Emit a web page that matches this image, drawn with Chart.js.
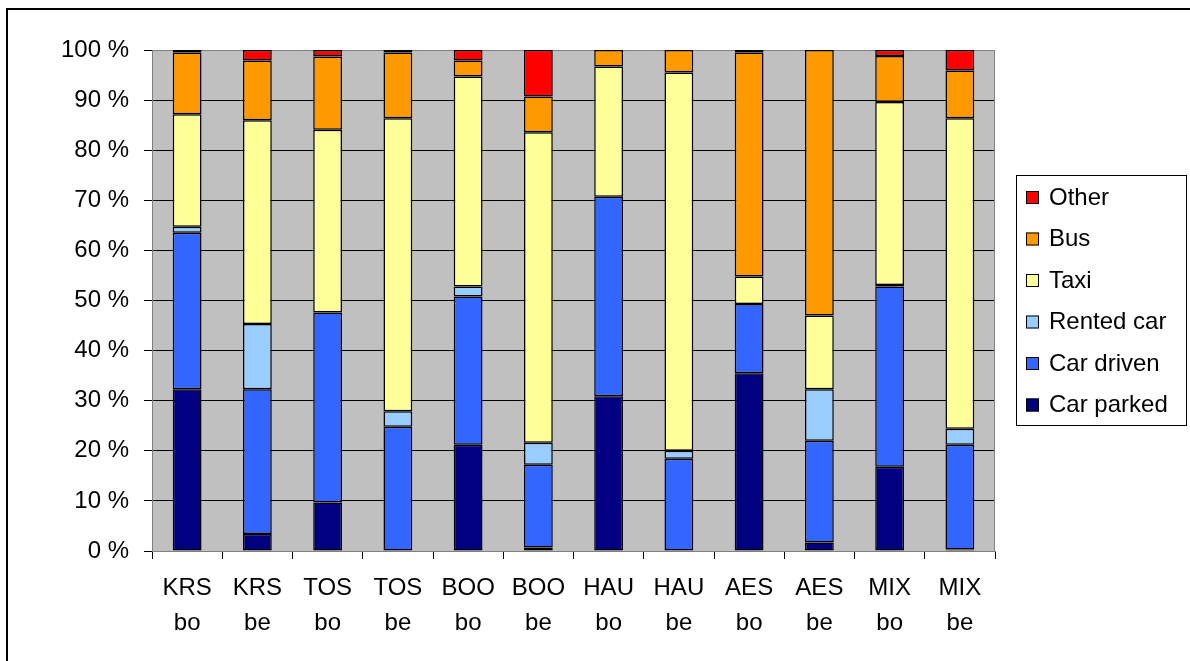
<!DOCTYPE html>
<html>
<head>
<meta charset="utf-8">
<script src="https://cdn.jsdelivr.net/npm/chart.js@4"></script>
<style>
  body { margin: 0; background: #fff; overflow: hidden; }
  canvas { display: block; }
</style>
</head>
<body>
<canvas id="modeChart" width="1190" height="661"></canvas>
<script>
// categories (two-line tick labels)
const categories = [
  ["KRS", "bo"], ["KRS", "be"], ["TOS", "bo"], ["TOS", "be"],
  ["BOO", "bo"], ["BOO", "be"], ["HAU", "bo"], ["HAU", "be"],
  ["AES", "bo"], ["AES", "be"], ["MIX", "bo"], ["MIX", "be"]
];

// shares in %
const carParked = [32.3, 3.4, 9.7, 0, 21.2, 0.7, 30.9, 0, 35.5, 1.7, 16.8, 0.3];
const carDriven = [31.2, 28.9, 37.9, 24.8, 29.6, 16.5, 39.8, 18.4, 13.8, 20.3, 36.0, 20.9];
const rentedCar = [1.2, 13.0, 0, 3.1, 2.0, 4.4, 0, 1.6, 0, 10.3, 0.3, 3.2];
const taxi      = [22.5, 40.7, 36.5, 58.5, 41.9, 62.0, 26.0, 75.5, 5.5, 14.7, 36.5, 62.0];
const bus       = [12.3, 11.9, 14.6, 13.1, 3.2, 7.1, 3.3, 4.5, 44.7, 53.0, 9.2, 9.5];
const other     = [0.5, 2.1, 1.3, 0.5, 2.1, 9.3, 0, 0, 0.5, 0, 1.2, 4.1];

const FONT = "'Liberation Sans', Arial, sans-serif";

function makeSet(label, data, color) {
  return {
    label: label,
    data: data,
    backgroundColor: color,
    borderColor: "#000",
    borderWidth: 1.5,
    borderSkipped: false,
    categoryPercentage: 1,
    barPercentage: 0.41
  };
}

// grey plot area + outer frame
const plotBackground = {
  id: "plotBackground",
  beforeDraw(chart) {
    const { ctx, chartArea: a } = chart;
    ctx.save();
    ctx.fillStyle = "#fff";
    ctx.fillRect(0, 0, chart.width, chart.height);
    ctx.fillStyle = "#C0C0C0";
    ctx.fillRect(a.left, a.top, a.right - a.left, a.bottom - a.top);
    ctx.strokeStyle = "#000";
    ctx.lineWidth = 2;
    ctx.strokeRect(7, 9, 1400, 1000);
    ctx.restore();
  },
  beforeDatasetsDraw(chart) {
    const { ctx, chartArea: a } = chart;
    ctx.save();
    ctx.strokeStyle = "#808080";
    ctx.lineWidth = 1;
    ctx.strokeRect(a.left + 0.5, a.top + 0.5, a.right - a.left - 1, a.bottom - a.top);
    ctx.restore();
  }
};

// boxed legend on the right, top entry = last dataset
const boxLegend = {
  id: "boxLegend",
  afterDraw(chart) {
    const ctx = chart.ctx;
    const sets = chart.data.datasets.slice().reverse();
    ctx.save();
    ctx.strokeStyle = "#000";
    ctx.lineWidth = 1;
    ctx.strokeRect(1016.5, 175.5, 170, 250);
    ctx.font = "24px " + FONT;
    ctx.textBaseline = "middle";
    sets.forEach((ds, i) => {
      const y = 197 + i * 41.5;
      ctx.fillStyle = ds.backgroundColor;
      ctx.fillRect(1026, y - 6, 13, 13);
      ctx.strokeRect(1026.5, y - 5.5, 12, 12);
      ctx.fillStyle = "#000";
      ctx.fillText(ds.label, 1049, y + 1);
    });
    ctx.restore();
  }
};

Chart.defaults.color = "#000";
Chart.defaults.font.family = FONT;
Chart.defaults.font.size = 24;

const chart = new Chart(document.getElementById("modeChart").getContext("2d"), {
  type: "bar",
  data: {
    labels: categories,
    datasets: [
      makeSet("Car parked", carParked, "#000080"),
      makeSet("Car driven", carDriven, "#3366FF"),
      makeSet("Rented car", rentedCar, "#99CCFF"),
      makeSet("Taxi", taxi, "#FFFF99"),
      makeSet("Bus", bus, "#FF9900"),
      makeSet("Other", other, "#FF0000")
    ]
  },
  options: {
    responsive: false,
    animation: false,
    layout: { padding: { top: 50, right: 195, left: 0, bottom: 0 } },
    plugins: {
      legend: { display: false },
      tooltip: { enabled: false }
    },
    scales: {
      x: {
        stacked: true,
        grid: { offset: true, drawOnChartArea: false, tickLength: 8, color: "#000" },
        border: { color: "#808080" },
        ticks: { padding: 12, maxRotation: 0, font: { size: 24, lineHeight: 1.46 } },
        afterFit(scale) { scale.height = 110; }
      },
      y: {
        stacked: true,
        min: 0,
        max: 100,
        grid: { color: "#000", tickLength: 8 },
        border: { color: "#808080" },
        ticks: {
          stepSize: 10,
          padding: 15,
          font: { size: 24 },
          callback: (v) => v + " %"
        },
        afterFit(scale) { scale.width = 152; }
      }
    }
  },
  plugins: [plotBackground, boxLegend]
});
</script>
</body>
</html>
